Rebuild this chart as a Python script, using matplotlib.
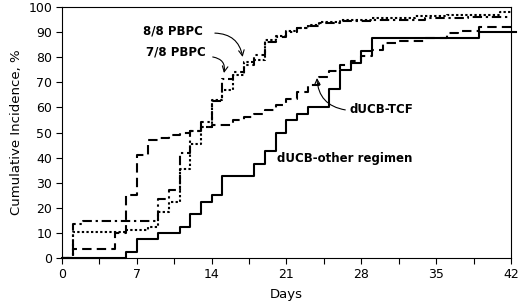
import numpy as np
import matplotlib
matplotlib.use("Agg")
import matplotlib.pyplot as plt

##########
# data (step curves, value after each day)
##########
days_other = [0, 6, 7, 9, 11, 12, 13, 14, 15, 18, 19, 20, 21, 22, 23, 25, 26, 27, 28, 29, 39, 42.5]
inc_other = [0, 2.5, 7.5, 10, 12.5, 17.5, 22.5, 25, 32.5, 37.5, 42.5, 50, 55, 57.5, 60,
             67.5, 75, 77.5, 82.5, 87.5, 90, 90]

days_tcf = [0, 1, 5, 6, 7, 8, 9, 10, 11, 12, 13, 14, 16, 17, 18, 19, 20, 21, 22, 23, 24,
            25, 26, 27, 28, 29, 30, 31.5, 34, 36, 37, 39, 42]
inc_tcf = [0, 3.5, 10, 25, 41, 47, 48, 49, 50, 50.5, 52, 53, 55, 56, 57.5, 59, 61, 63.5,
           66, 69, 72, 74.5, 77, 78.5, 80.5, 83, 85.5, 86.5, 87.5, 89.5, 90.5, 92, 92]

days_88 = [0, 1, 6, 8, 9, 10, 11, 12, 13, 14, 15, 16, 17, 18, 19, 20, 21, 22, 23, 24, 26,
           29, 33, 36, 41, 42]
inc_88 = [0, 10.5, 11.2, 12.5, 18.5, 22.5, 35.5, 45.5, 52, 63, 67, 73, 78, 79, 87, 88.5,
          90.5, 91.8, 93, 94, 94.7, 95.5, 96.3, 97, 98, 98]

days_78 = [0, 1, 2, 9, 10, 11, 12, 13, 14, 15, 16, 17, 18, 19, 20, 21, 22, 23, 24, 26, 29,
           34, 38, 42]
inc_78 = [0, 13.5, 14.8, 23.5, 27, 42, 50.5, 54, 62.5, 71.5, 74, 77, 81, 86, 88, 90, 91.5,
          92.5, 93.5, 94.5, 95, 95.5, 96, 96]

xticks = [0, 7, 14, 21, 28, 35, 42]
yticks = list(range(0, 101, 10))

plt.rcParams['font.family'] = ['DejaVu Sans']

fig = plt.figure(figsize=(5.2, 3.02), dpi=100)
ax = fig.add_axes([0.1192, 0.1457, 0.8635, 0.8311])

lw = 1.5
ax.step(days_other, inc_other, where='post', color='black', lw=lw, clip_on=False)
ax.step(days_tcf, inc_tcf, where='post', color='black', lw=lw, dashes=(4.5, 2.5))
ax.step(days_88, inc_88, where='post', color='black', lw=lw, dashes=(1.1, 1.1))
ax.step(days_78, inc_78, where='post', color='black', lw=lw, dashes=(4.5, 1.8, 1.1, 1.8))

ax.set_xlim(0, 42)
ax.set_ylim(0, 100)
ax.set_xticks(np.arange(0, 42.1, 3.5))
ax.set_xticklabels([str(int(v)) if v in xticks else '' for v in np.arange(0, 42.1, 3.5)])
ax.set_yticks(yticks)
ax.tick_params(direction='out', length=4, width=0.8, labelsize=9, colors='black', pad=3)
for s in ax.spines.values():
    s.set_linewidth(0.8)

ax.set_xlabel('Days', fontsize=9.5, labelpad=5)
ax.set_ylabel('Cumulative Incidence, %', fontsize=9.5, labelpad=4)

# labels & arrows
bold = dict(fontsize=8.5, fontweight='bold', va='center', ha='left')
ax.text(7.6, 90.4, '8/8 PBPC', **bold)
ax.text(7.9, 82, '7/8 PBPC', **bold)
ax.text(26.9, 59, 'dUCB-TCF', **bold)
ax.text(20.1, 39.8, 'dUCB-other regimen', **bold)

arr = dict(arrowstyle='->', color='black', lw=0.8, shrinkA=0, shrinkB=0)
ax.annotate('', xy=(16.9, 80.1), xytext=(14.3, 89.6),
            arrowprops=dict(connectionstyle='arc3,rad=-0.4', **arr))
ax.annotate('', xy=(15.15, 73.7), xytext=(14.1, 80.1),
            arrowprops=dict(connectionstyle='arc3,rad=-0.5', **arr))
ax.annotate('', xy=(23.85, 71.7), xytext=(26.5, 59),
            arrowprops=dict(connectionstyle='arc3,rad=-0.4', **arr))

fig.savefig('out.png', dpi=100)
